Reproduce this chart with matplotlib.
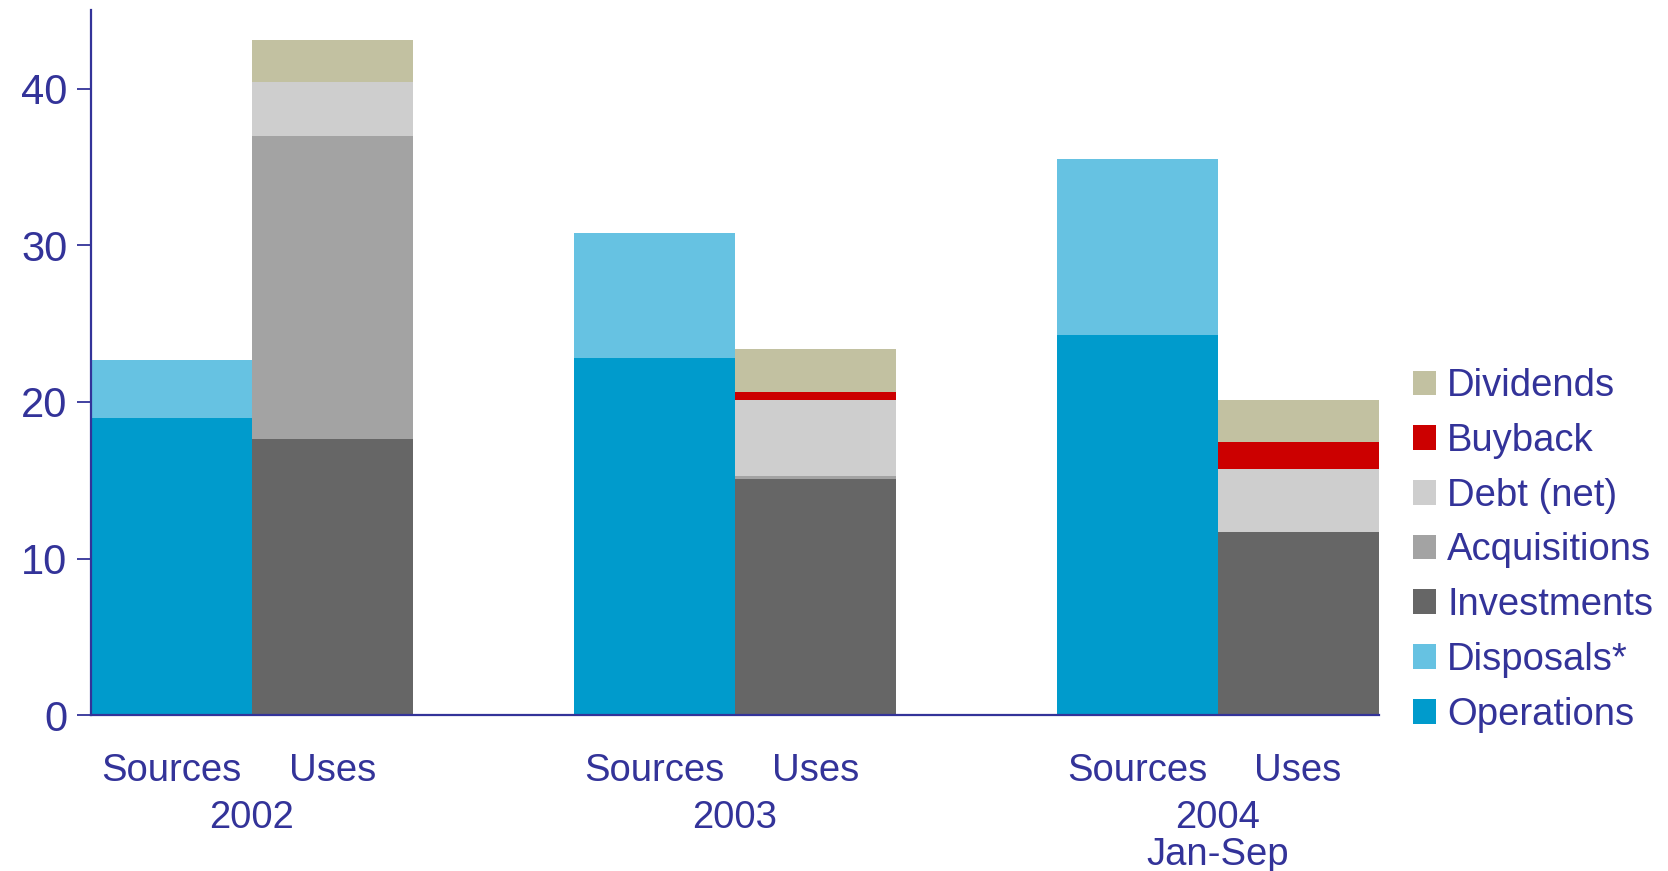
import matplotlib
matplotlib.use("Agg")
import matplotlib.pyplot as plt
from matplotlib.patches import Patch
from matplotlib.transforms import blended_transform_factory

plt.rcParams['font.family'] = ['Liberation Sans', 'DejaVu Sans']

# data
years = ['2002', '2003', '2004']
year_notes = ['', '', 'Jan-Sep']
bar_labels = ['Sources', 'Uses']

# sources
operations = [19.0, 22.8, 24.3]
disposals = [3.7, 8.0, 11.2]
# uses
investments = [17.6, 15.1, 11.7]
acquisitions = [19.4, 0.15, 0.0]
debt = [3.4, 4.9, 4.0]
buyback = [0.0, 0.5, 1.75]
dividends = [2.7, 2.7, 2.7]

navy = '#333399'
colors = {
    'Operations': '#009bcc',
    'Disposals*': '#66c2e2',
    'Investments': '#666666',
    'Acquisitions': '#a3a3a3',
    'Debt (net)': '#cecece',
    'Buyback': '#cc0000',
    'Dividends': '#c2c1a1',
}

fig = plt.figure(figsize=(16.68, 8.71), dpi=100)
ax = fig.add_axes([0.0545, 0.179, 0.772, 0.809])

src_x = [3 * i + 0.5 for i in range(len(years))]
use_x = [3 * i + 1.5 for i in range(len(years))]

# sources stack
bottom = [0.0] * len(years)
for name, vals in [('Operations', operations), ('Disposals*', disposals)]:
    ax.bar(src_x, vals, width=1.0, bottom=bottom, color=colors[name], linewidth=0)
    bottom = [b + v for b, v in zip(bottom, vals)]

# uses stack
bottom = [0.0] * len(years)
for name, vals in [('Investments', investments), ('Acquisitions', acquisitions),
                   ('Debt (net)', debt), ('Buyback', buyback), ('Dividends', dividends)]:
    ax.bar(use_x, vals, width=1.0, bottom=bottom, color=colors[name], linewidth=0)
    bottom = [b + v for b, v in zip(bottom, vals)]

ax.set_xlim(0, 8)
ax.set_ylim(0, 45)
ax.set_yticks([0, 10, 20, 30, 40])

for s in ['top', 'right']:
    ax.spines[s].set_visible(False)
for s in ['left', 'bottom']:
    ax.spines[s].set_color(navy)
    ax.spines[s].set_linewidth(1.6)

ax.tick_params(axis='y', direction='out', length=10, width=1.3, color=navy,
               labelcolor=navy, labelsize=30, pad=7)

xt = []
xl = []
for i in range(len(years)):
    xt += [src_x[i], use_x[i]]
    xl += bar_labels
ax.set_xticks(xt)
ax.set_xticklabels(xl)
ax.tick_params(axis='x', length=0, labelcolor=navy, labelsize=27.5, pad=27)

trans = blended_transform_factory(ax.transData, ax.transAxes)
for i, y in enumerate(years):
    cx = (src_x[i] + use_x[i]) / 2
    ax.annotate(y, xy=(cx, 0), xycoords=trans, xytext=(0, -74), textcoords='offset points',
                ha='center', va='center', color=navy, fontsize=27.5)
    if year_notes[i]:
        ax.annotate(year_notes[i], xy=(cx, 0), xycoords=trans, xytext=(0, -101),
                    textcoords='offset points', ha='center', va='center',
                    color=navy, fontsize=27.5)

order = ['Dividends', 'Buyback', 'Debt (net)', 'Acquisitions', 'Investments',
         'Disposals*', 'Operations']
handles = [Patch(facecolor=colors[n], edgecolor='none') for n in order]
leg = fig.legend(handles, order, loc='center left', bbox_to_anchor=(0.847, 0.368),
                 frameon=False, fontsize=27.5, handlelength=0.62, handleheight=0.62,
                 handletextpad=0.28, labelspacing=0.49, borderpad=0, borderaxespad=0)
for t in leg.get_texts():
    t.set_color(navy)

fig.savefig('out.png', dpi=100)
